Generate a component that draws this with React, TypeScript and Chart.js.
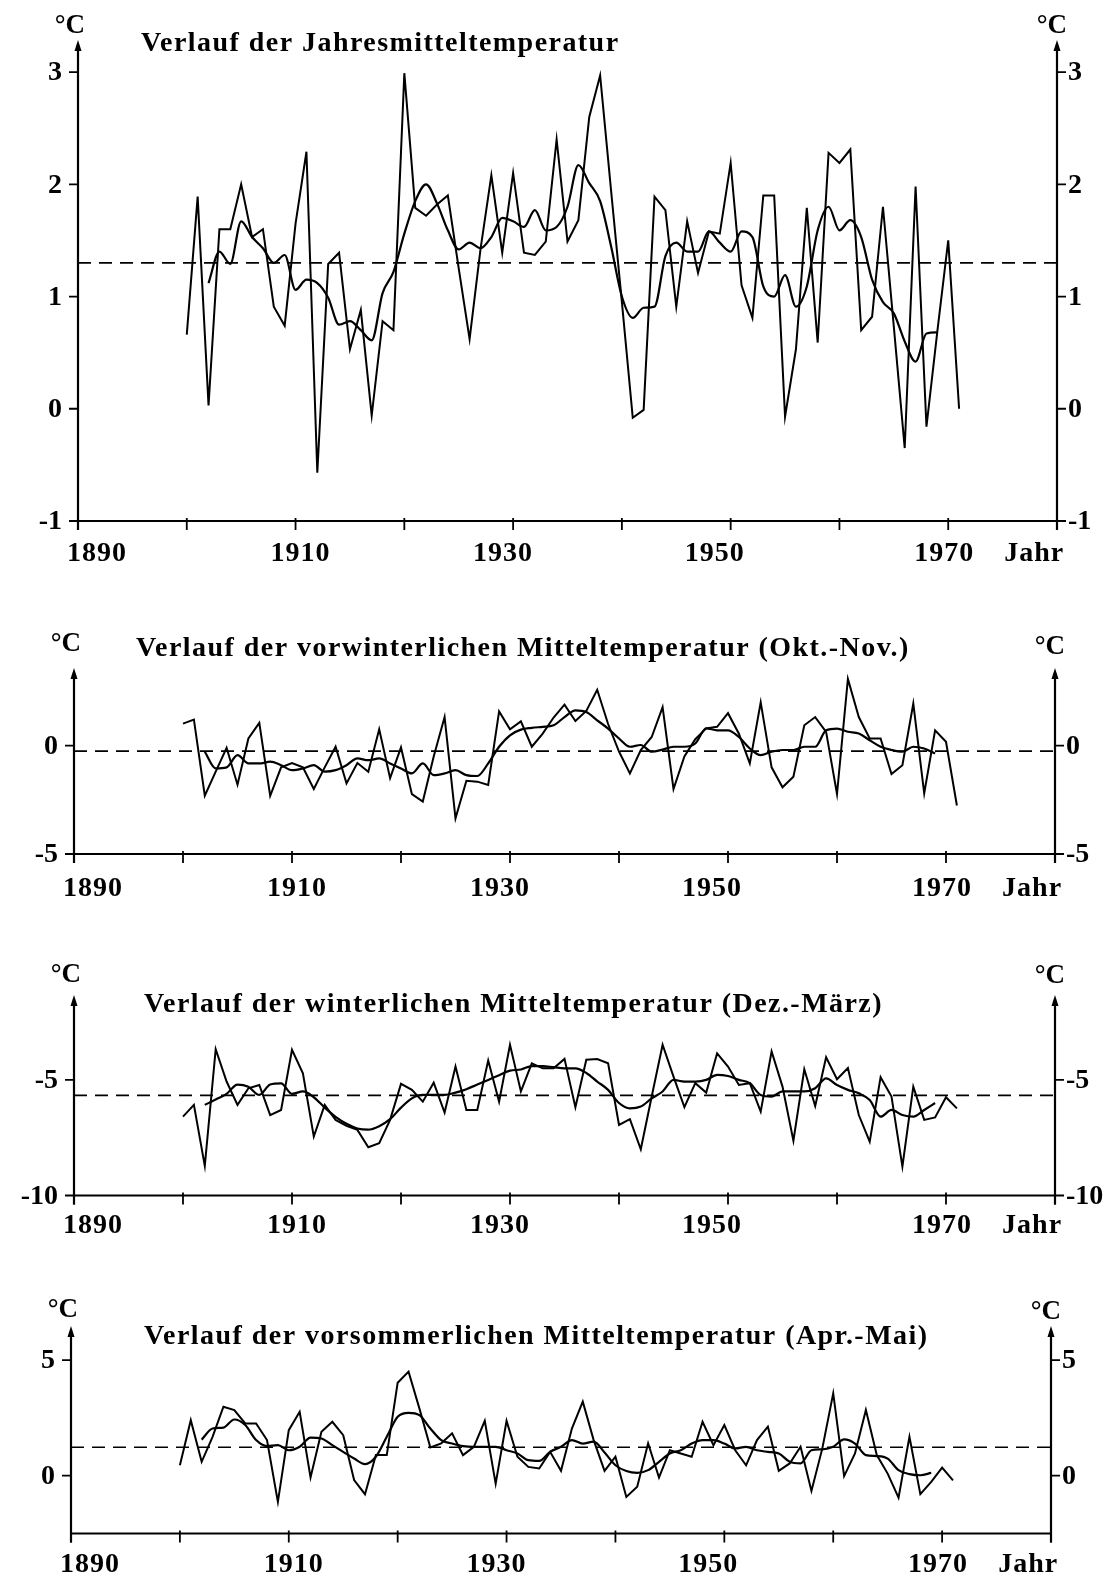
import React, { useEffect, useRef } from "react";
import { Chart, registerables } from "chart.js";

Chart.register(...registerables);

// ---------- DATA ----------
const annualYears = [
  1900, 1901, 1902, 1903, 1904, 1905, 1906, 1907, 1908, 1909,
  1910, 1911, 1912, 1913, 1914, 1915, 1916, 1917, 1918, 1919,
  1920, 1921, 1922, 1923, 1924, 1925, 1926, 1927, 1928, 1929,
  1930, 1931, 1932, 1933, 1934, 1935, 1936, 1937, 1938, 1939,
  1940, 1941, 1942, 1943, 1944, 1945, 1946, 1947, 1948, 1949,
  1950, 1951, 1952, 1953, 1954, 1955, 1956, 1957, 1958, 1959,
  1960, 1961, 1962, 1963, 1964, 1965, 1966, 1967, 1968, 1969,
  1970, 1971,
];

const smoothYears = [
  1902, 1903, 1904, 1905, 1906, 1907, 1908, 1909,
  1910, 1911, 1912, 1913, 1914, 1915, 1916, 1917, 1918, 1919,
  1920, 1921, 1922, 1923, 1924, 1925, 1926, 1927, 1928, 1929,
  1930, 1931, 1932, 1933, 1934, 1935, 1936, 1937, 1938, 1939,
  1940, 1941, 1942, 1943, 1944, 1945, 1946, 1947, 1948, 1949,
  1950, 1951, 1952, 1953, 1954, 1955, 1956, 1957, 1958, 1959,
  1960, 1961, 1962, 1963, 1964, 1965, 1966, 1967, 1968, 1969,
];

const meanYears = [1890, 1980];

// Jahresmitteltemperatur
const annualJahr = [
  0.66, 1.89, 0.03, 1.6, 1.6, 2.0, 1.53, 1.6, 0.91, 0.74,
  1.65, 2.29, -0.57, 1.29, 1.39, 0.53, 0.88, -0.06, 0.78, 0.7,
  2.99, 1.79, 1.72, 1.82, 1.9, 1.25, 0.62, 1.42, 2.08, 1.39,
  2.1, 1.39, 1.37, 1.49, 2.4, 1.49, 1.68, 2.6, 2.97, 1.95,
  0.95, -0.08, -0.01, 1.89, 1.77, 0.91, 1.67, 1.21, 1.58, 1.56,
  2.19, 1.1, 0.81, 1.9, 1.9, -0.07, 0.53, 1.79, 0.59, 2.28,
  2.19, 2.31, 0.7, 0.82, 1.8, 0.73, -0.35, 1.98, -0.16, 0.69,
  1.5, 0.0,
];
const smoothJahr = [
  1.12, 1.4, 1.29, 1.67, 1.53, 1.43, 1.3, 1.37,
  1.06, 1.15, 1.12, 0.99, 0.75, 0.78, 0.7, 0.61, 1.03, 1.22,
  1.56, 1.85, 2.0, 1.83, 1.59, 1.42, 1.48, 1.43, 1.53, 1.7,
  1.67, 1.62, 1.77, 1.59, 1.62, 1.8, 2.17, 2.01, 1.85, 1.45,
  1.0, 0.81, 0.9, 0.91, 1.36, 1.48, 1.4, 1.4, 1.58, 1.48,
  1.4, 1.58, 1.53, 1.09, 1.0, 1.19, 0.91, 1.09, 1.59, 1.8,
  1.59, 1.68, 1.53, 1.15, 0.95, 0.85, 0.6, 0.42, 0.67, 0.68,
];
const meanJahr = [1.3, 1.3];

// vorwinterliche Mitteltemperatur (Okt.-Nov.)
const annualVorwinter = [
  1.02, 1.2, -2.31, -1.2, -0.1, -1.8, 0.33, 1.05, -2.32, -1.0,
  -0.8, -1.0, -2.0, -1.0, -0.05, -1.74, -0.8, -1.2, 0.76, -1.5,
  -0.08, -2.24, -2.58, -0.5, 1.32, -3.35, -1.62, -1.66, -1.81, 1.58,
  0.76, 1.12, -0.05, 0.56, 1.3, 1.89, 1.14, 1.6, 2.58, 1.0,
  -0.27, -1.28, -0.2, 0.4, 1.78, -2.0, -0.5, 0.3, 0.8, 0.87,
  1.5, 0.55, -0.82, 2.0, -1.0, -1.92, -1.43, 0.94, 1.32, 0.64,
  -2.23, 3.08, 1.32, 0.33, 0.33, -1.31, -0.9, 1.94, -2.2, 0.71,
  0.18, -2.76,
];
const smoothVorwinter = [
  -0.28, -1.05, -1.0, -0.44, -0.82, -0.82, -0.74, -0.9,
  -1.13, -1.05, -0.9, -1.2, -1.13, -0.9, -0.59, -0.67, -0.59, -0.82,
  -1.05, -1.28, -0.82, -1.36, -1.28, -1.13, -1.36, -1.4, -0.82, -0.05,
  0.48, 0.74, 0.82, 0.87, 0.94, 1.32, 1.63, 1.55, 1.17, 0.79,
  0.33, -0.05, 0.03, -0.28, -0.18, -0.05, -0.05, 0.1, 0.8, 0.71,
  0.71, 0.4, -0.13, -0.44, -0.28, -0.2, -0.2, -0.05, -0.05, 0.71,
  0.79, 0.64, 0.56, 0.25, -0.05, -0.2, -0.28, -0.05, -0.13, -0.36,
];
const meanVorwinter = [-0.25, -0.25];

// winterliche Mitteltemperatur (Dez.-März)
const annualWinter = [
  -6.59, -6.08, -8.72, -3.67, -5.07, -6.08, -5.36, -5.22, -6.52, -6.3,
  -3.7, -4.71, -7.45, -6.08, -6.73, -6.99, -7.16, -7.91, -7.74, -6.73,
  -5.17, -5.43, -5.94, -5.12, -6.41, -4.42, -6.3, -6.3, -4.16, -5.94,
  -3.48, -5.5, -4.28, -4.5, -4.5, -4.09, -6.18, -4.13, -4.1, -4.28,
  -6.95, -6.7, -8.0, -5.72, -3.48, -4.86, -6.18, -5.14, -5.55, -3.85,
  -4.42, -5.22, -5.14, -6.37, -3.77, -5.29, -7.63, -4.54, -6.13, -4.02,
  -4.97, -4.49, -6.52, -7.67, -4.88, -5.72, -8.75, -5.29, -6.73, -6.62,
  -5.75, -6.23,
];
const smoothWinter = [
  -6.08, -5.85, -5.6, -5.2, -5.3, -5.65, -5.2, -5.15,
  -5.6, -5.5, -5.75, -6.2, -6.6, -6.9, -7.1, -7.15, -7.0, -6.7,
  -6.2, -5.8, -5.65, -5.65, -5.65, -5.55, -5.4, -5.2, -5.0, -4.8,
  -4.6, -4.55, -4.4, -4.4, -4.45, -4.5, -4.5, -4.7, -5.07, -5.43,
  -6.0, -6.23, -6.15, -5.8, -5.5, -5.0, -5.07, -5.07, -5.0, -4.78,
  -4.83, -5.0, -5.14, -5.65, -5.72, -5.5, -5.5, -5.5, -5.36, -4.93,
  -5.22, -5.43, -5.58, -5.87, -6.59, -6.3, -6.52, -6.59, -6.3, -6.0,
];
const meanWinter = [-5.67, -5.67];

// vorsommerliche Mitteltemperatur (Apr.-Mai)
const annualVorsommer = [
  0.45, 2.4, 0.6, 1.68, 2.98, 2.84, 2.26, 2.26, 1.54, -1.13,
  1.97, 2.76, -0.08, 1.9, 2.33, 1.75, -0.19, -0.8, 0.89, 0.89,
  4.02, 4.5, 2.9, 1.22, 1.4, 1.83, 0.89, 1.25, 2.37, -0.34,
  2.37, 0.82, 0.38, 0.31, 1.03, 0.21, 2.04, 3.2, 1.54, 0.21,
  0.82, -0.92, -0.48, 1.4, -0.08, 1.1, 0.96, 0.82, 2.33, 1.32,
  2.19, 1.1, 0.45, 1.54, 2.12, 0.21, 0.53, 1.25, -0.66, 1.18,
  3.56, -0.02, 0.96, 2.84, 0.89, 0.09, -0.95, 1.68, -0.8, -0.27,
  0.35, -0.2,
];
const smoothVorsommer = [
  1.56, 2.04, 2.08, 2.43, 2.19, 1.54, 1.28, 1.32,
  1.1, 1.25, 1.65, 1.61, 1.32, 1.03, 0.74, 0.5, 0.82, 1.68,
  2.55, 2.72, 2.62, 2.04, 1.54, 1.39, 1.28, 1.25, 1.25, 1.25,
  1.1, 0.96, 0.67, 0.64, 1.03, 1.25, 1.54, 1.39, 1.47, 1.0,
  0.45, 0.2, 0.12, 0.24, 0.6, 0.96, 1.1, 1.39, 1.54, 1.54,
  1.39, 1.18, 1.25, 1.1, 1.03, 0.96, 0.6, 0.53, 1.1, 1.14,
  1.25, 1.57, 1.39, 0.89, 0.85, 0.74, 0.24, 0.07, 0.02, 0.12,
];
const meanVorsommer = [1.23, 1.23];

// tick labels
const xTickYears = [1890, 1900, 1910, 1920, 1930, 1940, 1950, 1960, 1970, 1980];
const xLabelYears = [1890, 1910, 1930, 1950, 1970];
const xUnitLabel = "Jahr";
const yUnitLabel = "°C";
const yTicksJahr = [-1, 0, 1, 2, 3];
const yTicksVorwinter = [-5, 0];
const yTicksWinter = [-10, -5];
const yTicksVorsommer = [0, 5];

const titleJahr = "Verlauf der Jahresmitteltemperatur";
const titleVorwinter = "Verlauf der vorwinterlichen Mitteltemperatur (Okt.-Nov.)";
const titleWinter = "Verlauf der winterlichen Mitteltemperatur (Dez.-März)";
const titleVorsommer = "Verlauf der vorsommerlichen Mitteltemperatur (Apr.-Mai)";

// ---------- LAYOUT / STYLE ----------
const PAGE_W = 1118;
const FONT = '"Liberation Serif", "Times New Roman", serif';
const xLabelShift = [19, 5, -10, -16, -4];

type Panel = {
  title: string;
  annual: number[];
  smooth: number[];
  mean: number[];
  yTicks: number[];
  yMin: number;
  yMax: number;
  canvasTop: number;
  canvasHeight: number;
  left: number;
  right: number;
  top: number;
  bottom: number;
  titleX: number;
  titleY: number;
  unitLY: number;
  unitRY: number;
  labelDy: number;
};

const panels: Panel[] = [
  {
    title: titleJahr, annual: annualJahr, smooth: smoothJahr, mean: meanJahr,
    yTicks: yTicksJahr, yMin: -1, yMax: 3.25,
    canvasTop: 0, canvasHeight: 600,
    left: 78, right: 1057, top: 44, bottom: 521,
    titleX: 141, titleY: 51, unitLY: 33, unitRY: 33, labelDy: 33,
  },
  {
    title: titleVorwinter, annual: annualVorwinter, smooth: smoothVorwinter, mean: meanVorwinter,
    yTicks: yTicksVorwinter, yMin: -5, yMax: 3.4,
    canvasTop: 600, canvasHeight: 320,
    left: 74, right: 1055, top: 672, bottom: 854,
    titleX: 136, titleY: 656, unitLY: 651, unitRY: 654, labelDy: 35,
  },
  {
    title: titleWinter, annual: annualWinter, smooth: smoothWinter, mean: meanWinter,
    yTicks: yTicksWinter, yMin: -10, yMax: -1.5,
    canvasTop: 920, canvasHeight: 340,
    left: 74, right: 1055, top: 999, bottom: 1195.5,
    titleX: 144, titleY: 1012, unitLY: 982, unitRY: 983, labelDy: 30,
  },
  {
    title: titleVorsommer, annual: annualVorsommer, smooth: smoothVorsommer, mean: meanVorsommer,
    yTicks: yTicksVorsommer, yMin: -2.5, yMax: 6.3,
    canvasTop: 1260, canvasHeight: 319,
    left: 71, right: 1051, top: 1330, bottom: 1533.5,
    titleX: 144, titleY: 1344, unitLY: 1317, unitRY: 1319, labelDy: 31,
  },
];

const axesPlugin = {
  id: "paperAxes",
  afterDraw(chart: any, _args: any, opts: any) {
    const p: Panel = opts.panel;
    const ctx = chart.ctx;
    const xs = chart.scales.x;
    const ys = chart.scales.y;
    const off = p.canvasTop;
    const L = xs.getPixelForValue(1890);
    const R = xs.getPixelForValue(1980);
    const B = ys.getPixelForValue(p.yMin);
    const T = ys.getPixelForValue(p.yMax);
    ctx.save();
    ctx.strokeStyle = "#000";
    ctx.fillStyle = "#000";
    ctx.lineCap = "butt";
    // axis lines
    ctx.lineWidth = 2.2;
    ctx.beginPath();
    ctx.moveTo(L, B + 9);
    ctx.lineTo(L, T);
    ctx.moveTo(R, B + 9);
    ctx.lineTo(R, T);
    ctx.moveTo(L, B);
    ctx.lineTo(R, B);
    ctx.stroke();
    // arrows
    for (const ax of [L, R]) {
      ctx.beginPath();
      ctx.moveTo(ax, T - 4);
      ctx.lineTo(ax - 3.5, T + 7);
      ctx.lineTo(ax + 3.5, T + 7);
      ctx.closePath();
      ctx.fill();
    }
    // x ticks
    ctx.lineWidth = 1.8;
    ctx.beginPath();
    for (const yr of xTickYears) {
      const x = xs.getPixelForValue(yr);
      ctx.moveTo(x, B - 3);
      ctx.lineTo(x, B + 9);
    }
    ctx.stroke();
    // y ticks
    ctx.beginPath();
    for (const v of p.yTicks) {
      const y = ys.getPixelForValue(v);
      ctx.moveTo(L - 9, y);
      ctx.lineTo(L, y);
      ctx.moveTo(R, y);
      ctx.lineTo(R + 9, y);
    }
    ctx.stroke();
    // y labels
    ctx.font = `bold 28px ${FONT}`;
    ctx.textBaseline = "middle";
    for (const v of p.yTicks) {
      const y = ys.getPixelForValue(v) + 1;
      const s = v < 0 ? "-" + Math.abs(v) : String(v);
      ctx.textAlign = "right";
      ctx.fillText(s, L - 16, y);
      ctx.textAlign = "left";
      ctx.fillText(s, R + 11, y);
    }
    // x labels
    try { (ctx as any).letterSpacing = "1px"; } catch (e) { /* ignore */ }
    ctx.textAlign = "center";
    xLabelYears.forEach((yr, i) => {
      ctx.fillText(String(yr), xs.getPixelForValue(yr) + xLabelShift[i], B + p.labelDy);
    });
    ctx.fillText(xUnitLabel, xs.getPixelForValue(1977.9), B + p.labelDy);
    try { (ctx as any).letterSpacing = "0px"; } catch (e) { /* ignore */ }
    // unit labels
    ctx.font = `bold 27px ${FONT}`;
    ctx.textBaseline = "alphabetic";
    ctx.textAlign = "right";
    ctx.fillText(yUnitLabel, L + 7, p.unitLY - off);
    ctx.fillText(yUnitLabel, R + 10, p.unitRY - off);
    // title
    ctx.font = `bold 28px ${FONT}`;
    try { (ctx as any).letterSpacing = "1.45px"; } catch (e) { /* ignore */ }
    ctx.textAlign = "left";
    ctx.fillText(p.title, p.titleX, p.titleY - off);
    try { (ctx as any).letterSpacing = "0px"; } catch (e) { /* ignore */ }
    ctx.restore();
  },
};

function PanelChart({ panel }: { panel: Panel }) {
  const ref = useRef<HTMLCanvasElement | null>(null);
  useEffect(() => {
    if (!ref.current) return;
    const annualPts = annualYears.map((yr, i) => ({ x: yr, y: panel.annual[i] }));
    const smoothPts = smoothYears.map((yr, i) => ({ x: yr, y: panel.smooth[i] }));
    const meanPts = meanYears.map((yr, i) => ({ x: yr, y: panel.mean[i] }));
    const chart = new Chart(ref.current, {
      type: "line",
      data: {
        datasets: [
          {
            label: "Mittel",
            data: meanPts,
            borderColor: "#000",
            borderWidth: 1.7,
            borderDash: [13, 8],
            pointRadius: 0,
            tension: 0,
          },
          {
            label: "Jahreswerte",
            data: annualPts,
            borderColor: "#000",
            borderWidth: 2.0,
            pointRadius: 0,
            tension: 0,
          },
          {
            label: "Ausgeglichen",
            data: smoothPts,
            borderColor: "#000",
            borderWidth: 2.2,
            pointRadius: 0,
            tension: 0.4,
            cubicInterpolationMode: "monotone",
          },
        ],
      },
      options: {
        animation: false,
        responsive: false,
        devicePixelRatio: 1,
        layout: {
          padding: {
            left: panel.left,
            right: PAGE_W - panel.right,
            top: panel.top - panel.canvasTop,
            bottom: panel.canvasTop + panel.canvasHeight - panel.bottom,
          },
        },
        scales: {
          x: { type: "linear", min: 1890, max: 1980, display: false },
          y: { type: "linear", min: panel.yMin, max: panel.yMax, display: false },
        },
        plugins: {
          legend: { display: false },
          tooltip: { enabled: false },
          paperAxes: { panel },
        } as any,
      },
      plugins: [axesPlugin],
    });
    return () => chart.destroy();
  }, [panel]);
  return (
    <canvas
      ref={ref}
      width={PAGE_W}
      height={panel.canvasHeight}
      style={{
        position: "absolute",
        left: 0,
        top: panel.canvasTop,
        width: PAGE_W,
        height: panel.canvasHeight,
      }}
    />
  );
}

export default function App() {
  return (
    <div style={{ position: "absolute", left: 0, top: 0, width: PAGE_W, height: 1579, background: "#fff" }}>
      {panels.map((p, i) => (
        <PanelChart key={i} panel={p} />
      ))}
    </div>
  );
}
